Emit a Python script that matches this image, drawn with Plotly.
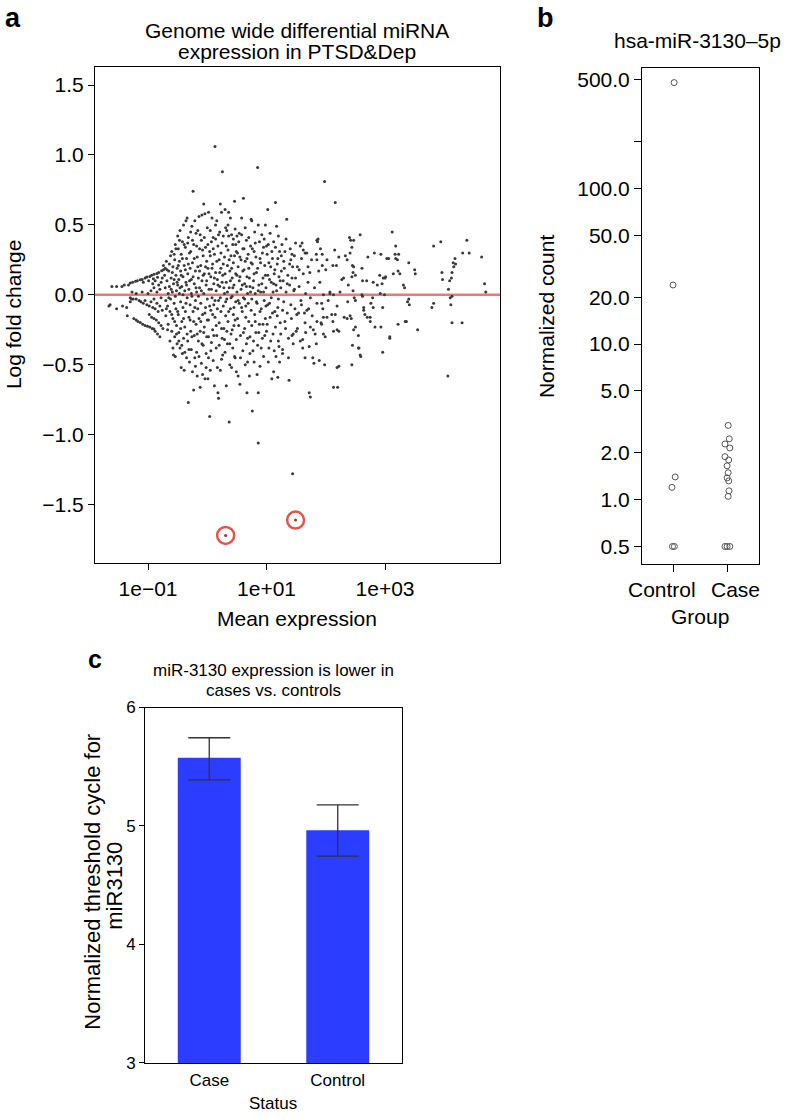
import plotly.graph_objects as go

# ---------------- Panel a: MA plot (log10 mean expression, log fold change) -------------
ma_low = [(-1.66,-0.08),(-1.64,-0.07),(-1.61,0.06),(-1.53,0.06),(-1.53,-0.10),(-1.44,0.06),(-1.43,-0.08),
          (-1.40,0.07),(-1.36,-0.09),(-1.35,-0.15),(-1.33,0.07),(-1.30,-0.05),(-1.28,-0.03),(-1.27,0.02),
          (-1.30,0.085),(-1.26,0.09),(-1.21,0.097),(-1.18,0.10),(-1.13,0.108),(-1.10,0.11),(-1.05,0.12),
          (-1.02,0.127),(-0.97,0.132),(-0.94,0.14),(-0.90,0.147),(-0.85,0.152),(-0.82,0.16),(-0.77,0.172),
          (-0.74,0.18),(-0.71,0.19),(-1.08,0.09),(-0.99,0.10),(-0.91,0.115),(-0.84,0.125),
          (-1.24,-0.17),(-1.20,-0.18),(-1.17,-0.19),(-1.13,-0.197),(-1.09,-0.21),(-1.05,-0.22),(-1.01,-0.225),
          (-0.97,-0.23),(-0.93,-0.24),(-0.90,-0.245),
          (-1.30,-0.02),(-1.25,-0.03),(-1.20,-0.03),(-1.15,-0.04),(-1.12,-0.05),(-1.08,-0.06),(-1.05,-0.04),
          (-1.02,-0.07),(-0.98,-0.08),(-0.95,-0.05),(-0.92,-0.09),(-0.90,-0.03),(-0.88,-0.10),(-0.85,-0.06),
          (-0.83,-0.12),(-0.80,-0.08),(-0.78,-0.02),(-0.76,-0.11),
          (-1.20,0.01),(-1.10,0.02),(-1.00,0.01),(-0.95,0.03),(-0.90,0.05),(-0.85,0.02),(-0.82,0.07),
          (-0.80,0.04),(-0.78,0.09),(-0.76,0.12),(-0.92,0.08),(-0.88,0.10),
          (-0.98,-0.14),(-0.94,-0.16),(-0.90,-0.17),(-0.86,-0.18),(-0.82,-0.20),(-0.78,-0.22),(-0.75,-0.24),
          (-0.88,-0.26),(-0.84,-0.28),(-0.80,-0.30)]

ma_core = [(-0.74,0.21),(-0.72,0.14),(-0.71,0.05),(-0.70,-0.04),(-0.70,-0.15),(-0.69,0.24),(-0.68,0.10),
           (-0.67,-0.08),(-0.66,0.01),(-0.66,-0.21),(-0.65,0.17),(-0.64,0.06),(-0.63,-0.12),(-0.62,0.28),
           (-0.62,-0.03),(-0.61,0.12),(-0.60,-0.26),(-0.60,0.31),(-0.59,0.02),(-0.58,-0.17),(-0.58,0.20),
           (-0.57,-0.43),(-0.57,0.08),(-0.56,-0.06),(-0.55,0.25),(-0.55,-0.30),(-0.54,0.36),(-0.54,-0.44),
           (-0.53,0.14),(-0.53,-0.10),(-0.52,0.03),(-0.52,-0.22),(-0.51,0.19),(-0.51,-0.35),(-0.50,0.42),
           (-0.50,0.07),
           (-0.49,0.33),(-0.49,-0.14),(-0.48,0.11),(-0.48,-0.27),(-0.47,0.01),(-0.47,0.24),(-0.46,-0.38),
           (-0.46,0.46),(-0.45,-0.05),(-0.45,0.17),(-0.44,-0.52),(-0.44,0.29),(-0.43,-0.19),(-0.43,0.06),
           (-0.42,-0.42),(-0.42,0.38),(-0.41,0.13),(-0.41,-0.09),(-0.40,0.50),(-0.40,-0.31),(-0.39,-0.54),
           (-0.39,0.21),(-0.38,0.03),(-0.38,-0.23),(-0.37,0.34),(-0.37,-0.12),(-0.36,0.53),(-0.36,0.09),
           (-0.35,-0.45),(-0.35,0.26),(-0.34,0.55),(-0.34,-0.02),(-0.33,-0.33),(-0.33,0.15),(-0.32,-0.77),
           (-0.32,0.41),(-0.31,-0.16),(-0.31,0.04),(-0.30,0.30),(-0.30,-0.48),(-0.29,0.19),(-0.29,-0.07),
           (-0.28,-0.26),(-0.28,0.45),(-0.27,0.11),(-0.27,-0.39),(-0.26,0.49),(-0.26,-0.01),(-0.25,-0.55),
           (-0.25,0.23),
           (-0.24,0.74),(-0.24,-0.12),(-0.23,-0.68),(-0.23,0.36),(-0.22,0.08),(-0.22,-0.29),(-0.21,0.53),
           (-0.21,-0.45),(-0.20,0.17),(-0.20,-0.04),(-0.19,0.44),(-0.19,-0.21),(-0.18,-0.41),(-0.18,0.02),
           (-0.17,0.27),(-0.17,-0.58),(-0.16,0.46),(-0.16,-0.10),(-0.15,0.12),(-0.15,-0.33),(-0.14,0.56),
           (-0.14,-0.17),(-0.13,0.33),(-0.13,0.05),(-0.12,-0.66),(-0.12,-0.26),(-0.11,0.21),(-0.11,-0.06),
           (-0.10,0.39),(-0.10,-0.49),(-0.09,0.57),(-0.09,0.10),(-0.08,-0.57),(-0.08,-0.14),(-0.07,0.28),
           (-0.07,-0.36),(-0.06,0.65),(-0.06,0.01),(-0.05,0.15),(-0.05,-0.23),(-0.04,-0.60),(-0.04,0.58),
           (-0.03,0.34),(-0.03,-0.09),(-0.02,-0.42),(-0.02,0.07),(-0.01,0.24),(-0.01,-0.30),(0.00,0.48),
           (0.00,-0.03),
           (0.01,-0.60),(0.01,0.19),(0.02,0.59),(0.02,-0.18),(0.02,-0.45),(0.03,0.04),(0.04,-0.87),
           (0.04,0.31),(0.05,0.46),(0.05,-0.54),(0.06,-0.11),(0.06,0.13),(0.07,0.38),(0.07,-0.34),
           (0.08,0.55),(0.08,-0.02),(0.09,0.22),(0.09,-0.25),(0.10,0.41),(0.10,-0.47),(0.11,0.08),
           (0.11,-0.07),(0.12,-0.65),(0.12,0.29),(0.13,1.06),(0.13,-0.16),(0.14,0.50),(0.14,0.16),
           (0.15,-0.38),(0.15,0.03),(0.16,0.53),(0.16,-0.29),(0.17,0.11),(0.17,-0.52),(0.18,-0.70),
           (0.18,0.35),(0.19,-0.74),(0.19,-0.04),(0.20,0.25),(0.20,-0.20),(0.21,0.45),(0.21,0.06),
           (0.22,0.65),(0.22,-0.54),(0.23,-0.12),(0.23,0.19),(0.24,0.59),(0.24,-0.46),(0.25,-0.31),
           (0.25,0.37),(0.255,0.88),
           (0.26,0.14),(0.27,-0.08),(0.27,0.42),(0.28,-0.24),(0.29,0.01),(0.29,0.27),(0.30,0.61),
           (0.30,-0.41),(0.31,0.48),(0.31,-0.15),(0.32,-0.65),(0.32,0.09),(0.33,0.46),(0.33,-0.03),
           (0.34,0.21),(0.34,-0.35),(0.35,-0.19),(0.35,0.32),(0.36,0.59),(0.36,0.42),(0.37,-0.91),
           (0.37,0.05),(0.38,-0.50),(0.38,0.17),(0.39,0.55),(0.39,-0.10),(0.40,0.28),(0.40,-0.28),
           (0.41,0.43),(0.41,-0.52),(0.42,-0.01),(0.42,0.12),(0.43,-0.38),(0.43,0.36),(0.44,0.23),
           (0.44,-0.14),(0.45,0.07),(0.45,-0.22),(0.46,0.67),(0.46,-0.44),(0.47,0.47),(0.47,-0.45),
           (0.48,0.15),(0.48,-0.05),(0.49,0.31),(0.49,-0.32),(0.50,0.42),(0.50,0.02),
           (0.51,-0.17),(0.52,0.20),(0.52,-0.58),(0.53,0.38),(0.54,-0.06),(0.54,0.10),(0.55,-0.64),
           (0.55,0.27),(0.56,-0.29),(0.57,0.04),(0.58,0.55),(0.58,0.43),(0.59,-0.12),(0.60,-0.40),
           (0.60,0.17),(0.61,0.69),(0.61,-0.02),(0.62,0.33),(0.63,-0.24),(0.63,0.08),(0.64,-0.50),
           (0.64,0.24),(0.65,-0.08),(0.66,0.39),(0.66,-0.35),(0.67,-0.70),(0.67,0.13),(0.68,-0.48),
           (0.68,0.01),(0.69,0.29),(0.70,-0.19),(0.70,0.19),(0.71,-0.58),(0.72,0.06),(0.72,-0.30),
           (0.73,0.35),(0.74,0.54),(0.74,-0.11),(0.75,0.53),(0.75,-0.03),
           (0.76,-0.83),(0.76,0.22),(0.77,-0.40),(0.78,0.10),(0.79,-0.48),(0.79,0.31),(0.80,-0.14),
           (0.81,0.37),(0.81,0.01),(0.82,-0.27),(0.83,0.16),(0.84,-0.06),(0.85,0.91),(0.85,-0.36),
           (0.86,-1.06),(0.86,0.50),(0.86,-0.70),(0.87,0.07),(0.88,-0.21),(0.89,-0.51),(0.89,0.26),
           (0.90,0.02),(0.91,-0.10),(0.92,0.43),(0.93,-0.31),(0.94,0.12),(0.95,0.34),(0.95,-0.44),
           (0.96,-0.04),(0.97,0.21),(0.98,0.50),(0.98,-0.17),(0.99,0.05),(1.00,-0.26),
           (1.01,0.29),(1.02,0.61),(1.02,-0.07),(1.03,0.36),(1.04,-0.38),(1.05,0.11),(1.06,-0.16),
           (1.07,0.20),(1.08,-0.02),(1.09,-0.60),(1.10,0.26),(1.11,-0.28),(1.12,-0.55),(1.12,0.08),
           (1.13,0.15),(1.14,-0.12),(1.15,0.66),(1.15,0.34),(1.16,-0.44),(1.17,0.03),(1.18,0.22),
           (1.19,-0.59),(1.19,-0.09),(1.20,0.42),(1.20,-0.33),(1.21,0.13),(1.22,-0.48),(1.23,-0.20),
           (1.24,0.05),(1.25,0.28),
           (1.26,0.36),(1.27,-0.39),(1.27,-0.42),(1.28,0.10),(1.29,-0.05),(1.30,0.19),(1.31,0.31),
           (1.32,-0.24),(1.33,0.02),(1.34,0.54),(1.35,-0.13),(1.36,0.14),(1.37,-0.31),(1.38,-0.61),
           (1.39,0.07),(1.40,0.33),(1.41,0.25),(1.42,-0.17),(1.43,0.29),(1.43,-0.29),(1.44,0.20),
           (1.45,-0.28),(1.46,0.03),(1.47,0.28),(1.48,-0.10),(1.49,0.12),(1.50,-0.26)]

ma_core_dense = [(-0.69,-0.10),(-0.68,0.18),(-0.67,-0.25),(-0.65,-0.02),(-0.64,0.22),(-0.63,-0.33),
           (-0.61,0.04),(-0.60,-0.14),(-0.59,0.16),(-0.58,-0.38),(-0.56,0.29),(-0.56,0.11),(-0.55,-0.19),
           (-0.54,-0.01),(-0.53,0.33),(-0.52,-0.28),(-0.51,0.09),(-0.50,-0.12),(-0.49,0.21),(-0.48,-0.33),
           (-0.47,0.39),(-0.46,0.05),(-0.45,-0.24),(-0.44,0.14),(-0.43,-0.36),(-0.42,0.26),(-0.41,0.00),
           (-0.40,-0.17),
           (-0.39,0.36),(-0.38,-0.41),(-0.37,0.18),(-0.36,-0.06),(-0.35,0.07),(-0.34,-0.28),(-0.33,0.37),
           (-0.32,0.22),(-0.31,-0.39),(-0.30,0.10),(-0.29,-0.18),(-0.28,0.31),(-0.27,0.01),(-0.26,-0.30),
           (-0.25,0.39),(-0.24,0.13),(-0.23,-0.19),(-0.22,0.26),(-0.21,-0.09),(-0.20,-0.51),(-0.19,0.05),
           (-0.18,0.35),(-0.17,-0.28),(-0.16,0.20),(-0.15,-0.01),(-0.14,-0.44),(-0.13,0.17),(-0.12,0.43),
           (-0.11,-0.19),(-0.10,0.03),(-0.09,-0.35),(-0.08,0.32),(-0.07,0.14),(-0.06,-0.27),(-0.05,0.41),
           (-0.04,-0.13),(-0.03,0.20),(-0.02,-0.52),(-0.01,0.10),(0.00,-0.18),
           (0.01,0.36),(0.02,-0.30),(0.03,0.15),(0.04,-0.08),(0.05,0.28),(0.06,-0.40),(0.07,0.04),
           (0.08,0.19),(0.09,-0.14),(0.10,0.33),(0.11,-0.29),(0.12,0.12),(0.13,-0.04),(0.14,0.40),
           (0.15,-0.22),(0.16,0.24),(0.17,-0.10),(0.18,0.07),(0.19,0.43),(0.20,-0.36),(0.21,0.16),
           (0.22,-0.02),(0.23,0.30),(0.24,-0.24),(0.25,0.09),(0.26,-0.43),(0.27,0.22),(0.28,0.05),
           (0.29,-0.32),(0.30,0.15),(0.31,-0.05),(0.32,0.35),(0.33,-0.26),(0.34,0.02),(0.35,0.50),
           (0.36,-0.12),(0.37,0.25),(0.38,-0.35),(0.39,0.10),(0.40,-0.02),(0.41,0.19),(0.42,-0.25),
           (0.43,0.05),(0.44,0.40),(0.45,-0.09),(0.46,0.28),(0.47,-0.18),(0.48,0.36),(0.49,-0.55),
           (0.50,0.14),
           (0.51,0.30),(0.52,-0.04),(0.53,-0.22),(0.54,0.44),(0.55,0.13),(0.56,-0.45),(0.57,0.25),
           (0.58,-0.09),(0.59,0.07),(0.60,0.33),(0.61,-0.27),(0.62,0.18),(0.63,-0.03),(0.64,0.48),
           (0.65,-0.16),(0.66,0.06),(0.67,0.26),(0.68,-0.31),(0.69,-0.06),(0.70,0.41),(0.71,0.12),
           (0.72,-0.42),(0.73,0.02),(0.74,0.23),(0.75,-0.22),(0.76,0.33),(0.77,0.05),(0.78,-0.33),
           (0.79,0.15),(0.80,0.45),(0.81,-0.19),(0.82,0.27),(0.83,-0.05),(0.84,-0.57),(0.85,0.19),
           (0.86,0.03),(0.87,-0.27),(0.88,0.38),(0.89,-0.12),(0.90,0.23),(0.91,-0.38),(0.92,0.08),
           (0.93,0.30),(0.94,-0.21),(0.95,0.02),(0.96,0.40),(0.97,-0.29),(0.98,0.14),(0.99,-0.08),
           (1.00,0.35),
           (1.01,-0.21),(1.02,0.14),(1.03,-0.48),(1.04,0.23),(1.05,-0.06),(1.06,0.44),(1.07,-0.33),
           (1.08,0.09),(1.09,0.31),(1.10,-0.13),(1.11,0.02),(1.12,0.38),(1.13,-0.40),(1.14,0.18),
           (1.15,-0.23),(1.16,0.07),(1.17,0.49),(1.18,-0.15),(1.19,0.26),(1.20,-0.03),(1.21,-0.37),
           (1.22,0.31),(1.23,0.10),(1.24,-0.28),(1.25,0.17),(1.27,-0.11),(1.29,0.24),(1.31,-0.19),
           (1.33,0.40),(1.35,0.08),(1.37,-0.45),(1.39,0.22),(1.41,-0.07),(1.43,0.12),(1.45,-0.35),
           (1.47,0.04),(1.49,0.37),
           (1.52,-0.24),(1.55,0.18),(1.58,-0.04),(1.62,0.32),(1.66,-0.27),(1.70,0.09),(1.73,0.16),
           (1.77,-0.15),(1.81,0.05),(1.84,-0.35),(1.88,0.17),(1.91,0.33),(1.95,-0.10)]

ma_high = [(1.51,-0.14),(1.52,0.20),(1.54,-0.13),(1.55,0.06),(1.57,0.35),(1.57,-0.33),(1.59,0.26),
           (1.59,-0.07),(1.60,0.37),(1.61,-0.32),(1.61,-0.38),(1.62,0.15),(1.64,-0.13),(1.65,0.30),
           (1.65,-0.45),(1.65,-0.20),(1.66,0.01),(1.68,0.30),(1.68,-0.11),(1.70,0.20),(1.71,-0.10),
           (1.72,-0.37),(1.72,-0.70),(1.74,-0.73),(1.74,-0.02),(1.74,-0.23),(1.76,0.25),(1.78,-0.45),
           (1.79,-0.25),(1.80,-0.49),(1.82,-0.28),(1.84,0.29),(1.85,0.25),(1.85,0.39),(1.85,-0.06),
           (1.85,-0.19),(1.86,0.38),(1.87,0.40),(1.89,-0.47),(1.90,0.09),(1.92,-0.20),(1.93,-0.06),
           (1.93,-0.21),(1.94,0.21),(1.94,0.29),(1.96,0.00),(1.96,-0.16),(1.96,-0.28),(1.98,-0.50),
           (1.98,0.81),(1.99,-0.30),(1.44,-1.28),
           (2.00,0.18),(2.02,0.25),(2.02,-0.16),(2.04,-0.04),(2.07,0.01),(2.07,0.02),(2.10,-0.14),
           (2.12,0.21),(2.12,-0.19),(2.13,0.00),(2.13,-0.66),(2.13,-0.26),(2.15,0.32),(2.16,0.66),
           (2.16,-0.14),(2.18,0.21),(2.19,-0.08),(2.19,-0.25),(2.19,-0.52),(2.20,-0.66),(2.22,0.27),
           (2.22,-0.51),(2.22,-0.26),(2.24,0.02),(2.27,0.11),(2.30,0.12),(2.31,-0.16),(2.33,0.28),
           (2.36,0.25),(2.36,-0.17),(2.37,-0.05),(2.38,0.07),(2.40,0.41),(2.41,0.30),(2.41,-0.15),
           (2.42,0.39),(2.43,-0.17),(2.44,0.34),(2.44,0.13),(2.44,-0.50),(2.45,0.21),(2.45,-0.36),
           (2.46,0.16),(2.46,0.03),(2.47,0.20),(2.47,0.39),(2.47,-0.25),(2.48,-0.02),(2.50,0.14),
           (2.50,-0.04),(2.50,-0.23),(2.55,-0.29),(2.55,-0.38),(2.56,-0.38),(2.58,0.43),(2.58,-0.43),
           (2.59,-0.44),(2.61,0.19),(2.61,0.00),(2.62,0.10),(2.62,-0.01),(2.64,-0.09),(2.64,-0.11),
           (2.66,-0.14),(2.69,0.10),(2.70,-0.16),(2.71,0.27),(2.75,-0.16),(2.75,-0.19),(2.76,-0.06),
           (2.79,-0.02),(2.80,0.09),(2.80,-0.09),(2.82,0.30),(2.83,-0.23),(2.87,0.07),(2.91,0.14),
           (2.92,0.01),(2.93,0.29),(2.93,-0.23),(2.95,0.08),(2.96,-0.09),(2.96,-0.41),(2.97,0.12),
           (2.99,0.00),
           (3.00,0.12),(3.01,0.13),(3.03,0.26),(3.06,0.26),(3.08,-0.30),(3.08,-0.31),(3.12,0.45),
           (3.14,0.15),(3.17,0.29),(3.18,0.35),(3.18,0.26),(3.21,0.25),(3.22,0.17),(3.22,-0.21),
           (3.23,0.29),(3.25,0.15),(3.31,0.07),(3.33,0.05),(3.34,-0.19),(3.36,-0.19),(3.38,-0.05),
           (3.40,0.23),(3.40,-0.03),(3.41,-0.07),(3.50,0.18),(3.51,0.15),(3.55,-0.25),(3.79,-0.09),
           (3.82,0.35),(3.82,-0.06),(3.94,0.38),(3.96,0.16),(3.97,0.11),(4.06,-0.58),(4.07,0.04),
           (4.09,0.10),(4.10,-0.02),(4.11,-0.07),(4.12,0.12),(4.13,0.16),(4.13,-0.01),(4.13,-0.20),
           (4.15,0.23),(4.16,0.20),(4.18,0.26),(4.19,0.22),(4.30,-0.20),(4.31,0.30),(4.38,0.39),
           (4.42,0.30),(4.63,0.27),(4.68,0.08),(4.70,0.02)]

# the two highlighted miRNAs (circled in red)
ma_highlight = [(0.31,-1.72),(1.49,-1.61)]

# ---------------- Panel b: hsa-miR-3130-5p normalized counts -------------
b_groups = ["Control", "Case"]
control_counts = [480, 24, 1.4, 1.2, 0.5, 0.5]
case_counts = [3.0, 2.46, 2.28, 2.15, 1.89, 1.8, 1.65, 1.49, 1.38, 1.32, 1.14, 1.05, 0.5, 0.5, 0.5]
control_jitter = [0.02, 0.0, 0.04, -0.02, -0.01, 0.025]
case_jitter = [0.02, 0.04, -0.04, 0.05, -0.04, 0.03, 0.0, 0.02, 0.0, 0.03, 0.035, 0.02, -0.04, 0.0, 0.05]
b_yticks = [0.5, 1.0, 2.0, 5.0, 10.0, 20.0, 50.0, 100.0, 200.0, 500.0]
b_yticklabels = ["0.5", "1.0", "2.0", "5.0", "10.0", "20.0", "50.0", "100.0", "", "500.0"]

# ---------------- Panel c: qPCR threshold cycle -------------
c_status = ["Case", "Control"]
c_means = [5.575, 4.965]
c_err_plus = [0.17, 0.213]
c_err_minus = [0.185, 0.22]

a_xticks = [0.1, 10, 1000]
a_xticklabels = ["1e\u221201", "1e+01", "1e+03"]
a_yticks = [-1.5, -1.0, -0.5, 0.0, 0.5, 1.0, 1.5]
a_yticklabels = ["\u22121.5", "\u22121.0", "\u22120.5", "0.0", "0.5", "1.0", "1.5"]

W, H = 788, 1119
def px(x): return x / W
# vertical placement, compensated for the slight vertical squeeze seen in the captured page
def py(y): return 1 - ((y - 9.2) / 0.982) / H

FONT = "Liberation Sans, Arial, Helvetica, sans-serif"
DOT = "#3a3a3a"

fig = go.Figure()

all_pts = ma_low + ma_core + ma_core_dense + ma_high
fig.add_trace(go.Scatter(
    x=[10 ** p[0] for p in all_pts], y=[p[1] for p in all_pts],
    mode="markers", marker=dict(size=3, color=DOT), xaxis="x", yaxis="y", showlegend=False))
fig.add_trace(go.Scatter(
    x=[10 ** p[0] for p in ma_highlight], y=[p[1] for p in ma_highlight],
    mode="markers", marker=dict(size=3, color="#a03030"), xaxis="x", yaxis="y", showlegend=False))
fig.add_trace(go.Scatter(
    x=[10 ** p[0] for p in ma_highlight], y=[p[1] for p in ma_highlight],
    mode="markers", marker=dict(size=17, symbol="circle-open", color="#e2564c", line=dict(width=2.5)),
    xaxis="x", yaxis="y", showlegend=False))

# Panel b
fig.add_trace(go.Scatter(
    x=[1 + j for j in control_jitter], y=control_counts, mode="markers",
    marker=dict(size=6, symbol="circle-open", color="#555555", line=dict(width=1)),
    xaxis="x2", yaxis="y2", showlegend=False))
fig.add_trace(go.Scatter(
    x=[2 + j for j in case_jitter], y=case_counts, mode="markers",
    marker=dict(size=6, symbol="circle-open", color="#555555", line=dict(width=1)),
    xaxis="x2", yaxis="y2", showlegend=False))

# Panel c
fig.add_trace(go.Bar(
    x=[0, 1], y=c_means, width=0.49, marker=dict(color="#2b3eff", line=dict(width=0)),
    error_y=dict(type="data", symmetric=False, array=c_err_plus, arrayminus=c_err_minus,
                 color="#333333", thickness=1.3, width=21),
    xaxis="x3", yaxis="y3", showlegend=False))

axis_common = dict(showline=True, linecolor="black", linewidth=1, mirror=True, showgrid=False,
                   zeroline=False, ticks="outside", tickcolor="black", tickwidth=1)

fig.update_layout(
    width=W, height=H, margin=dict(l=0, r=0, t=0, b=0),
    paper_bgcolor="white", plot_bgcolor="white",
    font=dict(family=FONT, color="black"),
    xaxis=dict(domain=[px(95), px(500)], type="log", range=[-1.895, 4.94], anchor="y",
               tickvals=a_xticks, ticktext=a_xticklabels, ticklen=6,
               tickfont=dict(size=21), **axis_common),
    yaxis=dict(domain=[py(563), py(67)], range=[-1.92, 1.63], anchor="x",
               tickvals=a_yticks, ticktext=a_yticklabels, ticklen=6,
               tickfont=dict(size=21), **axis_common),
    xaxis2=dict(domain=[px(642), px(759)], range=[0.426, 2.59], anchor="y2",
                tickvals=[1, 2], ticktext=["", ""], ticklen=7, tickangle=0,
                tickfont=dict(size=21), **axis_common),
    yaxis2=dict(domain=[py(564), py(68)], type="log", range=[-0.416, 2.776], anchor="x2",
                tickvals=b_yticks, ticktext=b_yticklabels, ticklen=7,
                tickfont=dict(size=21), **axis_common),
    xaxis3=dict(domain=[px(145), px(402)], range=[-0.5, 1.5], anchor="y3",
                tickvals=[0, 1], ticktext=c_status, ticks="", showline=True, mirror=True,
                linecolor="black", linewidth=1, showgrid=False, zeroline=False,
                ticklabelstandoff=2, tickfont=dict(size=17)),
    yaxis3=dict(domain=[py(1062), py(707)], range=[3, 6], anchor="x3",
                tickvals=[3, 4, 5, 6], ticklen=5,
                tickfont=dict(size=17), **axis_common),
)

fig.add_shape(type="line", xref="x domain", yref="y", x0=0, x1=1, y0=0, y1=0,
              line=dict(color="rgba(238,95,95,0.85)", width=2.5), layer="below")

def ann(text, x, y, size=21, angle=0, bold=False):
    fig.add_annotation(text=f"<b>{text}</b>" if bold else text, x=px(x), y=py(y),
                       xref="paper", yref="paper", showarrow=False, xanchor="center",
                       yanchor="middle", textangle=angle, font=dict(size=size, family=FONT, color="black"))

ann("a", 13, 18, size=27, bold=True)
ann("b", 545, 18, size=27, bold=True)
ann("c", 95, 659, size=25, bold=True)
ann("Genome wide differential miRNA", 297, 31)
ann("expression in PTSD&Dep", 297, 52)
ann("Log fold change", 13, 315, angle=-90)
ann("Mean expression", 297, 618)
ann("hsa-miR-3130\u20135p", 697, 41)
ann("Normalized count", 546, 316, angle=-90)
ann(b_groups[0], 662, 589)
ann(b_groups[1], 735, 589)
ann("Group", 700, 616)
ann("miR-3130 expression is lower in", 273, 670, size=17)
ann("cases vs. controls", 273, 690, size=17)
ann("Normalized threshold cycle for", 93, 881, size=22, angle=-90)
ann("miR3130", 115, 885, size=22, angle=-90)
ann("Status", 273, 1103, size=17)

fig.write_html("out.html", config={"displayModeBar": False},
               post_script="document.body.style.margin='0';document.body.style.overflow='hidden';")
